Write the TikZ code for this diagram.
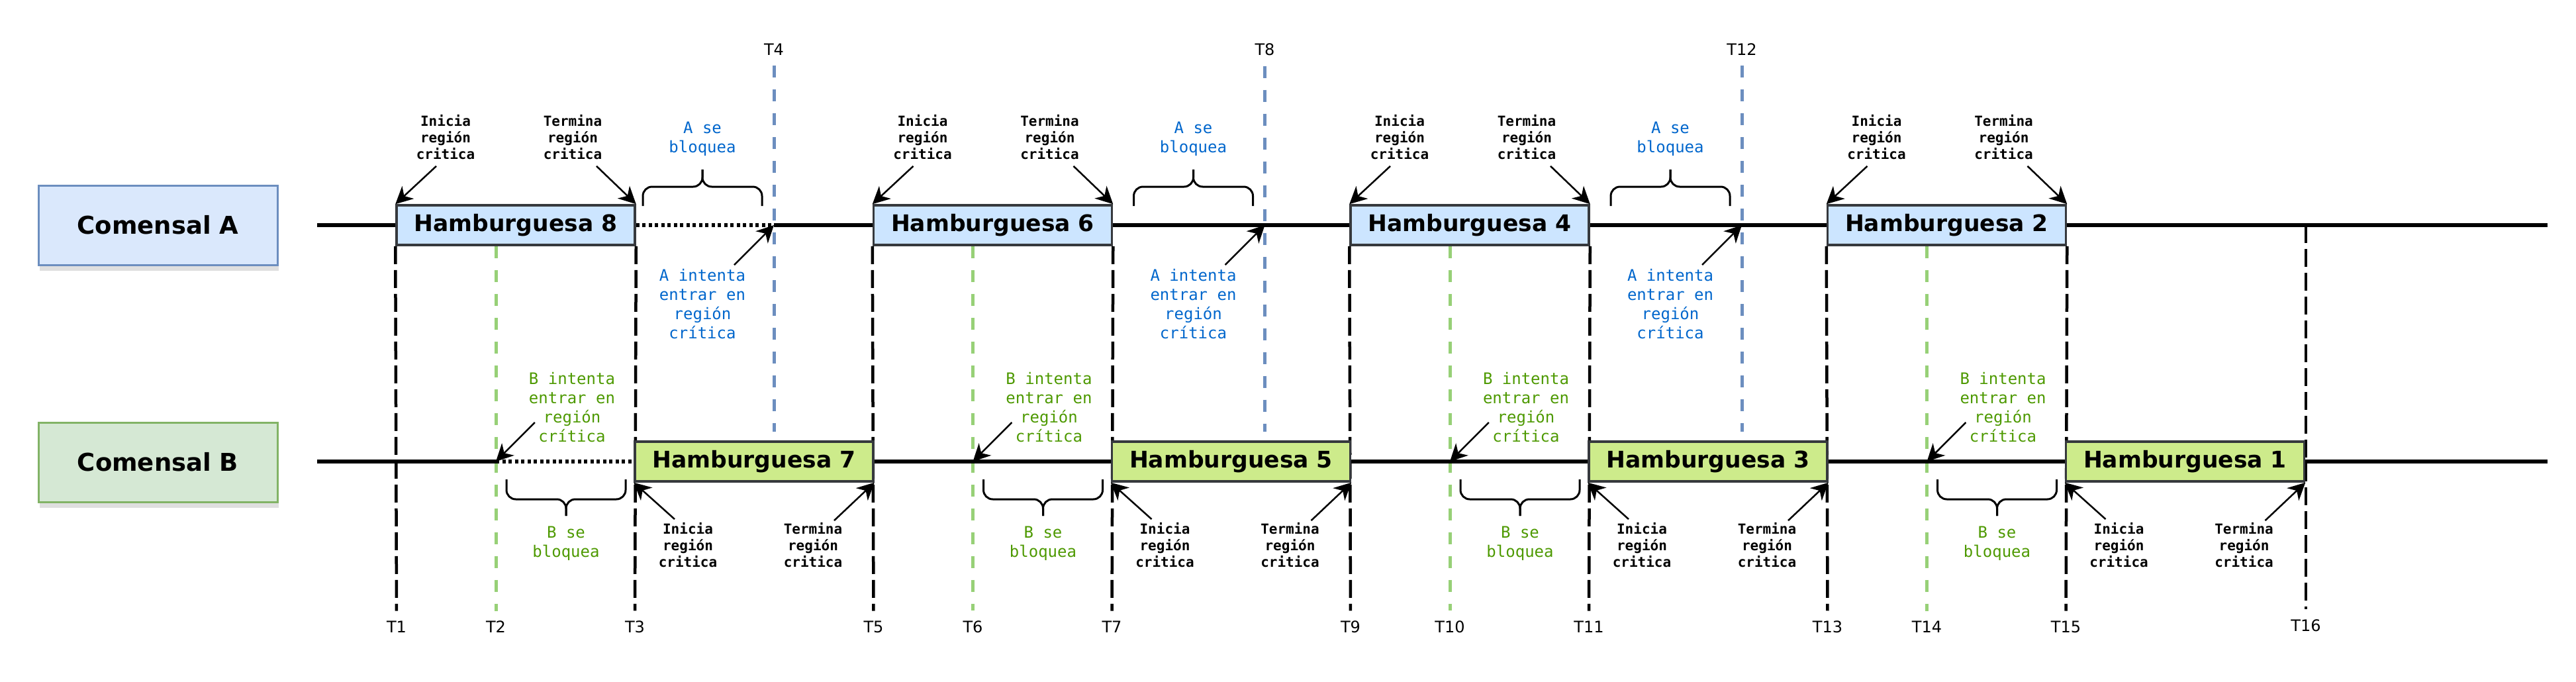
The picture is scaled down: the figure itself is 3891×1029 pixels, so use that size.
\documentclass[tikz,border=0pt]{standalone}
\usepackage{fontspec}
\setmainfont{DejaVu Sans}
\setmonofont{DejaVu Sans Mono}
\usetikzlibrary{arrows.meta,shadows,backgrounds}

\definecolor{azulborde}{HTML}{6C8EBF}
\definecolor{azulfondo}{HTML}{DAE8FC}
\definecolor{azulham}{HTML}{CCE5FF}
\definecolor{verdeborde}{HTML}{82B366}
\definecolor{verdefondo}{HTML}{D5E8D4}
\definecolor{verdeham}{HTML}{CDEB8B}
\definecolor{gris}{HTML}{36393D}
\definecolor{azultexto}{HTML}{0066CC}
\definecolor{verdetexto}{HTML}{4D9900}
\definecolor{verdelinea}{HTML}{97D077}

\begin{document}
\begin{tikzpicture}[
    x=1pt,y=-1pt,
    comensal/.style={draw, line width=3pt, minimum width=361pt, minimum height=120pt, inner sep=0,
        font=\fontsize{37}{44}\selectfont\bfseries,
        drop shadow={opacity=0.25, shadow xshift=2pt, shadow yshift=-9pt}},
    ham/.style={draw=gris, line width=3.5pt, minimum width=360pt, minimum height=60pt, inner sep=0,
        font=\fontsize{34.5}{40}\selectfont\bfseries},
    nota/.style={align=center, inner sep=0, font=\ttfamily\bfseries\fontsize{21}{25}\selectfont},
    aviso/.style={align=center, inner sep=0, font=\ttfamily\fontsize{24}{29}\selectfont},
    tlabel/.style={font=\fontsize{24}{28}\selectfont},
    linea/.style={line width=6pt},
    punteada/.style={line width=6pt, dash pattern=on 5pt off 4.5pt},
    corte/.style={line width=4.5pt, dash pattern=on 27pt off 9pt, shorten >=12pt},
    fino/.style={line width=5pt, dash pattern=on 18pt off 18pt, shorten >=12pt},
    flecha/.style={line width=2.5pt, -{Stealth[length=26pt,width=26pt,inset=8pt]}},
    llave/.style={line width=3pt, rounded corners=14pt}
]
\useasboundingbox (0,0) rectangle (3891,1029);

\node[comensal, draw=azulborde, fill=azulfondo] (comA) at (238.5,340) {Comensal A};
\node[comensal, draw=verdeborde, fill=verdefondo] (comB) at (238.5,698) {Comensal B};

\coordinate (iniA) at (479,340);
\coordinate (finA) at (3848,340);
\coordinate (iniB) at (479,697);
\coordinate (finB) at (3848,697);

\foreach \k/\na/\nb in {0/8/7,1/6/5,2/4/3,3/2/1}{
  \pgfmathsetmacro\xa{599+720.5*\k}
  \pgfmathtruncatemacro\tA{4*\k+1}
  \pgfmathtruncatemacro\tB{4*\k+2}
  \pgfmathtruncatemacro\tC{4*\k+3}
  \node[ham, fill=azulham] (ham\na) at (\xa+180,340) {Hamburguesa \na};
  \node[ham, fill=verdeham] (ham\nb) at (\xa+540,697) {Hamburguesa \nb};
  \node[tlabel] (t\tA) at (\xa,947) {T\tA};
  \node[tlabel] (t\tB) at (\xa+150,947) {T\tB};
  \node[tlabel] (t\tC) at (\xa+360,947) {T\tC};
  \node[nota] (iniA\k) at (\xa+74,207) {Inicia\\región\\critica};
  \node[nota] (terA\k) at (\xa+266,207) {Termina\\región\\critica};
  \node[nota] (iniB\k) at (\xa+440,823) {Inicia\\región\\critica};
  \node[nota] (terB\k) at (\xa+629,823) {Termina\\región\\critica};
  \node[aviso, text=verdetexto] (bint\k) at (\xa+265,615) {B intenta\\entrar en\\región\\crítica};
  \node[aviso, text=verdetexto] (bblq\k) at (\xa+256,821) {B se\\bloquea};
  \draw[llave] (\xa+166,724) |- (\xa+256,754) -- (\xa+256,779);
  \draw[llave] (\xa+346,724) |- (\xa+256,754) -- (\xa+256,779);
  \draw[flecha] ([shift={(-14,10)}]iniA\k.south) -- (ham\na.north west);
  \draw[flecha] ([shift={(36,10)}]terA\k.south) -- (ham\na.north east);
  \draw[flecha] ([shift={(-20,-5)}]iniB\k.north) -- (ham\nb.south west);
  \draw[flecha] ([shift={(32,-3)}]terB\k.north) -- (ham\nb.south east);
  \draw[flecha] ([shift={(9,23)}]bint\k.west) -- (t\tB |- ham\nb.west);
}

\foreach \k/\na/\nb/\dd in {0/8/7/210,1/6/5/231,2/4/3/231}{
  \pgfmathsetmacro\xt{599+720.5*\k+360+\dd}
  \pgfmathtruncatemacro\tD{4*\k+4}
  \node[tlabel] (t\tD) at (\xt,75) {T\tD};
  \node[aviso, text=azultexto] (ablq\k) at (\xt-108,210) {A se\\bloquea};
  \node[aviso, text=azultexto] (aint\k) at (\xt-108,459) {A intenta\\entrar en\\región\\crítica};
  \draw[llave] (\xt-198,311) |- (\xt-108,282) -- (\xt-108,256);
  \draw[llave] (\xt-18,311) |- (\xt-108,282) -- (\xt-108,256);
  \draw[flecha] ([shift={(48,-6)}]aint\k.north) -- (t\tD |- ham\na.east);
}

\node[tlabel] (t16) at (3483,945) {T16};

\begin{scope}[on background layer]
\foreach \k/\na/\nb in {0/8/7,1/6/5,2/4/3,3/2/1}{
  \pgfmathtruncatemacro\tA{4*\k+1}
  \pgfmathtruncatemacro\tB{4*\k+2}
  \pgfmathtruncatemacro\tC{4*\k+3}
  \draw[corte] (ham\na.south west) -- (t\tA.north);
  \draw[corte] (ham\na.south east) -- (t\tC.north);
  \draw[fino, verdelinea] (t\tB |- ham\na.south) -- (t\tB.north);
}
\foreach \k/\nb in {0/7,1/5,2/3}{
  \pgfmathtruncatemacro\tD{4*\k+4}
  \draw[fino, azulborde, shorten <=12pt, shorten >=13pt] (t\tD.south) -- (t\tD |- ham\nb.north);
}
\draw[corte] (t16 |- ham2.east) -- (t16.north);

\draw[linea] (iniA) -- (ham8.west);
\draw[punteada] (ham8.east) -- (t4 |- ham8.east);
\draw[linea] (t4 |- ham8.east) -- (finA);
\draw[linea] (iniB) -- (t2 |- ham7.west);
\draw[punteada] (t2 |- ham7.west) -- (ham7.west);
\draw[linea] (ham7.west) -- (finB);
\end{scope}
\end{tikzpicture}
\end{document}
